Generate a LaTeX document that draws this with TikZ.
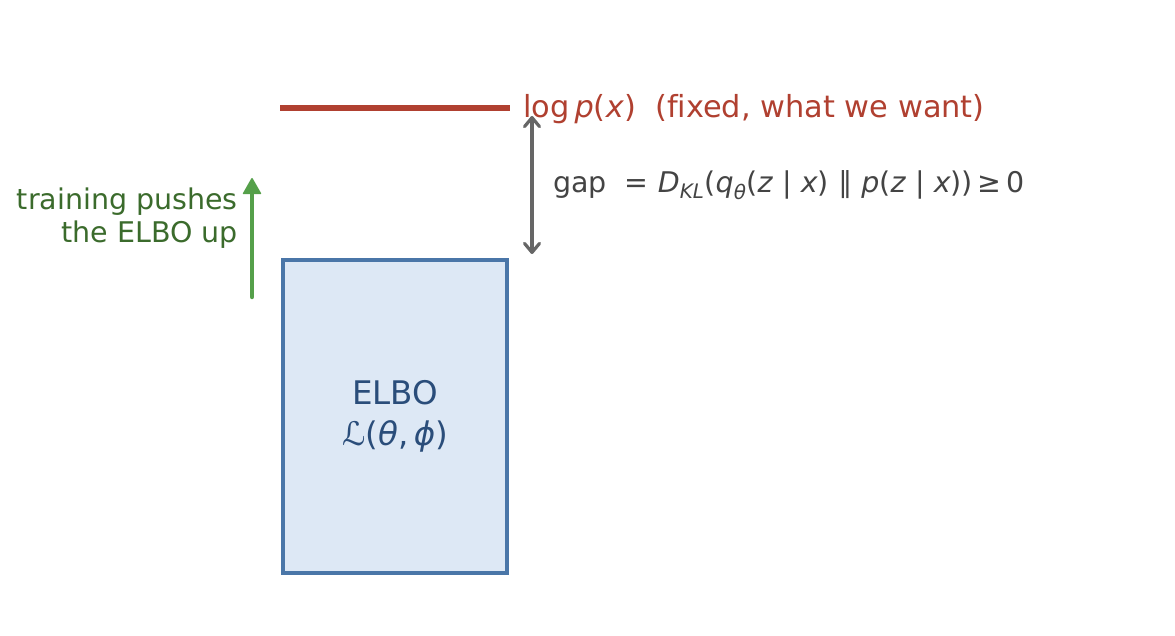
\documentclass[tikz,border=0pt]{standalone}
\usepackage{fontspec}
\setmainfont[Ligatures=NoCommon]{DejaVu Sans}
\usetikzlibrary{arrows.meta}
\definecolor{redc}{HTML}{B04030}
\definecolor{greent}{HTML}{3B6B2C}
\definecolor{greena}{HTML}{55A04A}
\definecolor{grayarr}{HTML}{666666}
\definecolor{graytxt}{HTML}{444444}
\definecolor{boxfill}{HTML}{DDE8F5}
\definecolor{boxline}{HTML}{4A76A8}
\definecolor{bluetxt}{HTML}{2A4D7A}
\tikzset{
  lbl/.style={inner sep=0pt, font=\fontsize{30.4}{36}\selectfont},
}
\begin{document}
\begin{tikzpicture}[x=1pt,y=-1pt]
\useasboundingbox (0,0) rectangle (1175,636);
% log p(x) line
\coordinate (la) at (280,108);
\coordinate (lb) at (510,108);
\draw[redc, line width=6pt] (la) -- (lb);
\node[lbl, anchor=west, text=redc] (logp) at (523,109) {log\,\textit{p}(\textit{x})\ \ (fixed, what we want)};
% ELBO box
\node[draw=boxline, fill=boxfill, line width=4pt, minimum width=224pt, minimum height=313pt, inner sep=0pt, align=center, text=bluetxt, font=\fontsize{32.5}{41}\selectfont] (elbo) at (395,416.5) {ELBO\\ℒ(\textit{θ},\,\textit{ϕ})};
% gap arrow
\coordinate (ga) at (532,116);
\coordinate (gb) at (532,254);
\draw[grayarr, line width=3.2pt, {Straight Barb[length=9pt,width=15pt,round]}-{Straight Barb[length=9pt,width=15pt,round]}] (ga) -- (gb);
\node[lbl, anchor=west, text=graytxt, font=\fontsize{28.5}{34}\selectfont] (gap) at (553,185) {gap \ = \textit{D}\textsubscript{\textit{KL}}(\textit{q}\textsubscript{\textit{θ}}(\textit{z} | \textit{x}) ∥ \textit{p}(\textit{z} | \textit{x}))\,≥\,0};
% training arrow
\coordinate (ta) at (252,297);
\coordinate (tb) at (252,178);
\draw[greena, line width=4.5pt, line cap=round, -{Triangle[length=17pt,width=19pt,line width=1.5pt,round]}] (ta) -- (tb);
\node[lbl, anchor=east, align=right, text=greent, font=\fontsize{28.5}{33}\selectfont] (train) at (238,218) {training pushes\\the ELBO up};
\end{tikzpicture}
\end{document}
